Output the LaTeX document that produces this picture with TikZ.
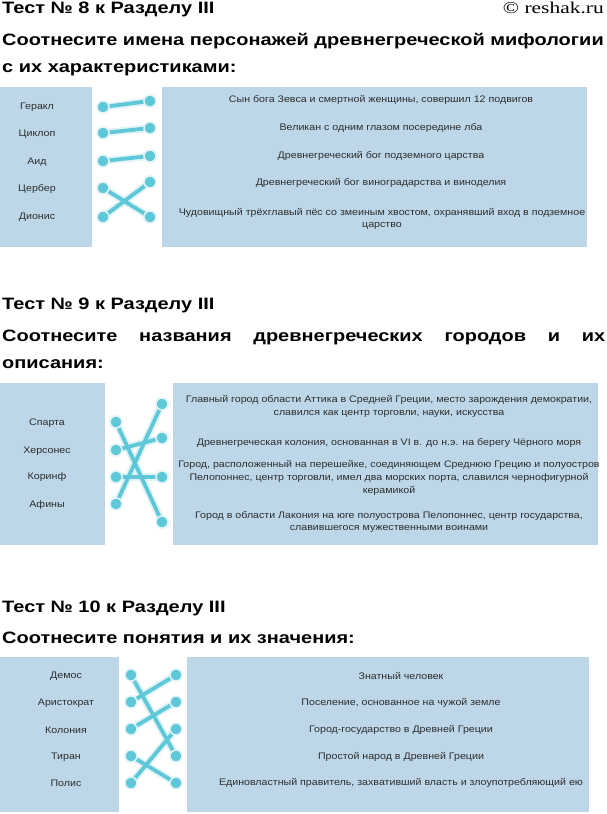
\documentclass[tikz,border=0pt]{standalone}
\usepackage{fontspec}
\setmainfont{Liberation Sans}[FakeStretch=1.12]
\newfontfamily\headfont{Liberation Sans}[FakeStretch=1.21]
\newfontfamily\wmfont{Liberation Serif}[FakeStretch=1.3]
\definecolor{boxblue}{RGB}{189,215,232}
\definecolor{conncol}{RGB}{94,199,216}
\definecolor{halocol}{RGB}{224,244,248}
\definecolor{txt}{RGB}{45,45,45}
\tikzset{
  panel/.style={fill=boxblue, draw=none},
  lbl/.style={font=\fontsize{9.5}{12}\selectfont, text=txt, inner sep=0pt},
  desc/.style={font=\fontsize{9.5}{12.8}\selectfont, text=txt, align=center, inner sep=0pt},
  head/.style={font=\fontsize{16.5}{20}\selectfont\headfont\bfseries, anchor=base west, inner sep=0pt},
  link/.style={conncol, line width=3.8pt, line cap=round},
  linkhalo/.style={halocol, line width=7.5pt, line cap=round},
  dotn/.style={circle, fill=conncol, draw=halocol, line width=1.6pt, inner sep=0pt, minimum size=12pt}
}
\begin{document}
\begin{tikzpicture}[x=1pt,y=-1pt]
\useasboundingbox (0,0) rectangle (607,814);
\fill[white] (0,0) rectangle (607,814);

% ---------- Test 8 ----------
\node[head] (h8) at (2,13) {Тест № 8 к Разделу III};
\node[font=\fontsize{16.5}{20}\selectfont\wmfont, anchor=base east, inner sep=0pt] (wm) at (604,13) {© reshak.ru};
\node[head] (q8a) at (2,45) {Соотнесите имена персонажей древнегреческой мифологии};
\node[head] (q8b) at (2,72) {с их характеристиками:};

\fill[panel] (0,87) rectangle (92,247);
\fill[panel] (162,87) rectangle (587,247);

\node[lbl] (l81) at (37,107) {Геракл};
\node[lbl] (l82) at (37,134) {Циклоп};
\node[lbl] (l83) at (37,162) {Аид};
\node[lbl] (l84) at (37,189) {Цербер};
\node[lbl] (l85) at (37,217) {Дионис};

\node[desc] (d81) at (381,100) {Сын бога Зевса и смертной женщины, совершил 12 подвигов};
\node[desc] (d82) at (381,128) {Великан с одним глазом посередине лба};
\node[desc] (d83) at (381,156) {Древнегреческий бог подземного царства};
\node[desc] (d84) at (381,183) {Древнегреческий бог виноградарства и виноделия};
\node[desc] (d85) at (382,219) {Чудовищный трёхглавый пёс со змеиным хвостом, охранявший вход в подземное\\царство};

\coordinate (a81) at (103,107); \coordinate (b81) at (150,101);
\coordinate (a82) at (103,133); \coordinate (b82) at (150,128);
\coordinate (a83) at (103,161); \coordinate (b83) at (150,156);
\coordinate (a84) at (103,188); \coordinate (b84) at (150,182);
\coordinate (a85) at (103,217); \coordinate (b85) at (150,217);

\foreach \u/\v in {a81/b81,a82/b82,a83/b83,a84/b85,a85/b84} \draw[linkhalo] (\u) -- (\v);
\foreach \u/\v in {a81/b81,a82/b82,a83/b83,a84/b85,a85/b84} \draw[link] (\u) -- (\v);
\foreach \p in {a81,a82,a83,a84,a85,b81,b82,b83,b84,b85} \node[dotn] (n\p) at (\p) {};

% ---------- Test 9 ----------
\node[head] (h9) at (2,309) {Тест № 9 к Разделу III};
\node[head, text width=603pt, align=justify] (q9a) at (2,341) {Соотнесите\hfill названия\hfill древнегреческих\hfill городов\hfill и\hfill их};
\node[head] (q9b) at (2,368) {описания:};

\fill[panel] (0,383) rectangle (105,545);
\fill[panel] (173,383) rectangle (598,545);

\node[lbl] (l91) at (47,423) {Спарта};
\node[lbl] (l92) at (47,451) {Херсонес};
\node[lbl] (l93) at (47,477) {Коринф};
\node[lbl] (l94) at (47,505) {Афины};

\node[desc] (d91) at (389,406.5) {Главный город области Аттика в Средней Греции, место зарождения демократии,\\славился как центр торговли, науки, искусства};
\node[desc] (d92) at (389,443) {Древнегреческая колония, основанная в VI в. до н.э. на берегу Чёрного моря};
\node[desc] (d93) at (389,478) {Город, расположенный на перешейке, соединяющем Среднюю Грецию и полуостров\\Пелопоннес, центр торговли, имел два морских порта, славился чернофигурной\\керамикой};
\node[desc] (d94) at (389,522) {Город в области Лакония на юге полуострова Пелопоннес, центр государства,\\славившегося мужественными воинами};

\coordinate (a91) at (116,422); \coordinate (b91) at (162,404);
\coordinate (a92) at (116,450); \coordinate (b92) at (162,438);
\coordinate (a93) at (116,477); \coordinate (b93) at (162,477);
\coordinate (a94) at (116,504); \coordinate (b94) at (162,522);

\foreach \u/\v in {a91/b94,a92/b92,a93/b93,a94/b91} \draw[linkhalo] (\u) -- (\v);
\foreach \u/\v in {a91/b94,a92/b92,a93/b93,a94/b91} \draw[link] (\u) -- (\v);
\foreach \p in {a91,a92,a93,a94,b91,b92,b93,b94} \node[dotn] (n\p) at (\p) {};

% ---------- Test 10 ----------
\node[head] (h10) at (2,612) {Тест № 10 к Разделу III};
\node[head] (q10) at (2,643) {Соотнесите понятия и их значения:};

\fill[panel] (0,657) rectangle (119,812);
\fill[panel] (187,657) rectangle (589,812);

\node[lbl] (l101) at (66,676) {Демос};
\node[lbl] (l102) at (66,703) {Аристократ};
\node[lbl] (l103) at (66,730) {Колония};
\node[lbl] (l104) at (66,757) {Тиран};
\node[lbl] (l105) at (66,783) {Полис};

\node[desc] (d101) at (401,676) {Знатный человек};
\node[desc] (d102) at (401,703) {Поселение, основанное на чужой земле};
\node[desc] (d103) at (401,730) {Город-государство в Древней Греции};
\node[desc] (d104) at (401,757) {Простой народ в Древней Греции};
\node[desc] (d105) at (401,783) {Единовластный правитель, захвативший власть и злоупотребляющий ею};

\coordinate (a101) at (131,675); \coordinate (b101) at (176,675);
\coordinate (a102) at (131,702); \coordinate (b102) at (176,702);
\coordinate (a103) at (131,729); \coordinate (b103) at (176,729);
\coordinate (a104) at (131,756); \coordinate (b104) at (176,756);
\coordinate (a105) at (131,783); \coordinate (b105) at (176,783);

\foreach \u/\v in {a101/b104,a102/b101,a103/b102,a104/b105,a105/b103} \draw[linkhalo] (\u) -- (\v);
\foreach \u/\v in {a101/b104,a102/b101,a103/b102,a104/b105,a105/b103} \draw[link] (\u) -- (\v);
\foreach \p in {a101,a102,a103,a104,a105,b101,b102,b103,b104,b105} \node[dotn] (n\p) at (\p) {};
\end{tikzpicture}
\end{document}
